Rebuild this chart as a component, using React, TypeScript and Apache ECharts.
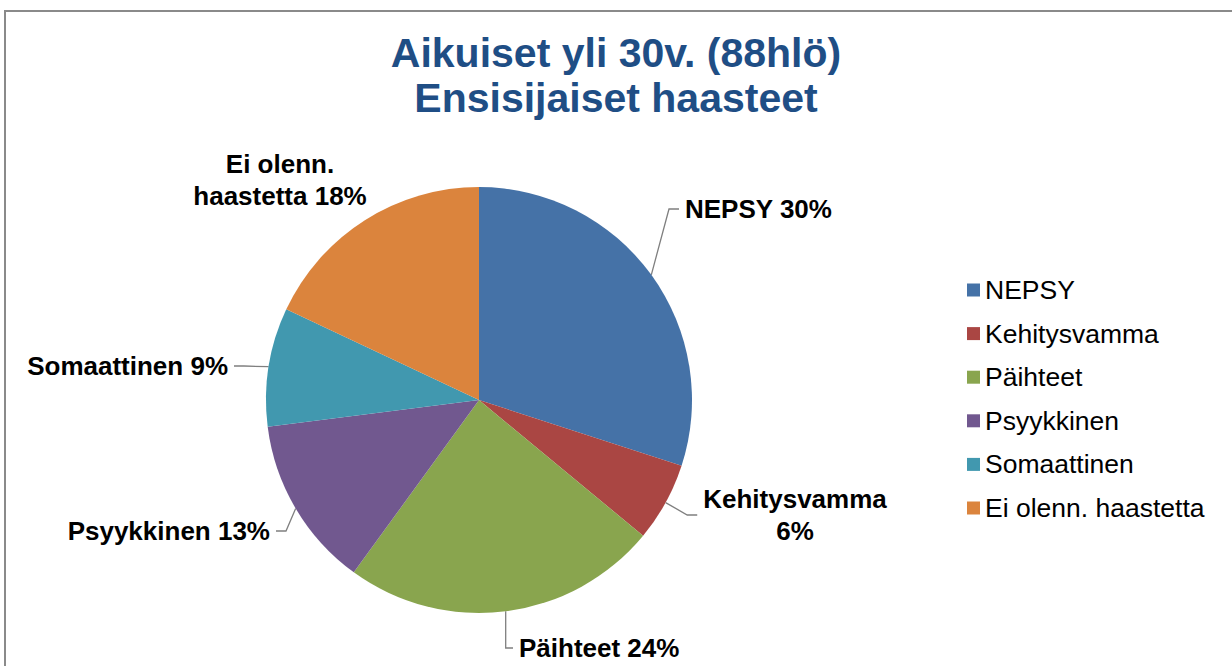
import React, { useEffect, useRef } from "react";
import * as echarts from "echarts";

const titleLines = ["Aikuiset yli 30v. (88hlö)", "Ensisijaiset haasteet"];
const categories = ["NEPSY", "Kehitysvamma", "Päihteet", "Psyykkinen", "Somaattinen", "Ei olenn. haastetta"];
const values = [30, 6, 24, 13, 9, 18];
const colors = ["#4572A7", "#AA4643", "#89A54E", "#71588F", "#4198AF", "#DB843D"];

// label placement (layout config, not data)
const labelAnchors = [
  { x: 679, y: 209, align: "left" },
  { x: 795, y: 515, align: "center" },
  { x: 513, y: 648, align: "left" },
  { x: 276, y: 531, align: "right" },
  { x: 234, y: 366, align: "right" },
  { x: 280, y: 180, align: "center" },
];
const wrapNames: Record<string, string> = { "Ei olenn. haastetta": "Ei olenn.\nhaastetta" };
const breakBeforeValue = [false, true, false, false, false, false];
const hideLine = [false, false, false, false, false, true];

const FONT = "'Liberation Sans', Arial, sans-serif";

export default function App() {
  const ref = useRef<HTMLDivElement>(null);
  useEffect(() => {
    if (!ref.current) return;
    const chart = echarts.init(ref.current, null, { renderer: "svg" });
    chart.setOption({
      animation: false,
      backgroundColor: "#ffffff",
      title: {
        text: titleLines.join("\n"),
        left: "center",
        top: 30,
        padding: [0, 0, 0, 8],
        textStyle: {
          fontFamily: FONT,
          fontSize: 41,
          fontWeight: "bold",
          color: "#1F4E85",
          lineHeight: 45,
        },
      },
      legend: {
        orient: "vertical",
        left: 962,
        top: 270,
        icon: "rect",
        itemWidth: 13,
        itemHeight: 13,
        itemGap: 13.6,
        selectedMode: false,
        data: categories,
        textStyle: { fontFamily: FONT, fontSize: 26.5, lineHeight: 30, color: "#000" },
      },
      graphic: [
        {
          type: "rect",
          shape: { x: 5, y: 11, width: 1300, height: 700 },
          style: { fill: "none", stroke: "#8a8a8a", lineWidth: 2 },
          silent: true,
        },
      ],
      series: [
        {
          type: "pie",
          center: [479, 400],
          radius: 213,
          startAngle: 90,
          clockwise: true,
          avoidLabelOverlap: false,
          silent: true,
          color: colors,
          itemStyle: { borderWidth: 0 },
          label: {
            show: true,
            position: "outside",
            fontFamily: FONT,
            fontSize: 26,
            fontWeight: "bold",
            lineHeight: 32,
            color: "#000",
            padding: [0, 6, 0, 6],
            formatter: (p: any) =>
              (wrapNames[p.name] ?? p.name) + (breakBeforeValue[p.dataIndex] ? "\n" : " ") + p.value + "%",
          },
          labelLine: {
            show: true,
            length: 10,
            length2: 10,
            smooth: false,
            lineStyle: { color: "#7f7f7f", width: 1.3 },
          },
          labelLayout: (params: any) => {
            const a = labelAnchors[params.dataIndex];
            return { x: a.x, y: a.y, align: a.align, verticalAlign: "middle" };
          },
          data: categories.map((name, i) => ({
            name,
            value: values[i],
            labelLine: hideLine[i] ? { show: false } : undefined,
          })),
        },
      ],
    });
    return () => chart.dispose();
  }, []);
  return (
    <div
      ref={ref}
      style={{ position: "absolute", left: 0, top: 0, width: 1232, height: 666 }}
    />
  );
}
